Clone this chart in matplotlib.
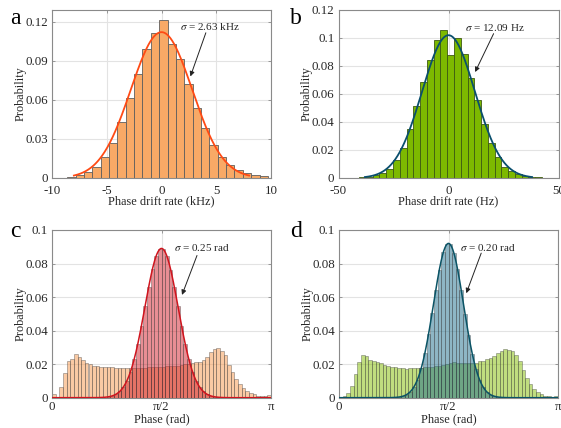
import numpy as np
import matplotlib
matplotlib.use("Agg")
import matplotlib.pyplot as plt

plt.rcParams['font.family'] = ['Liberation Serif', 'DejaVu Serif']
plt.rcParams['mathtext.fontset'] = 'stix'
plt.rcParams['axes.unicode_minus'] = False

# ---------------- data ----------------
# panel a: phase drift rate histogram (kHz)
a_edge0 = -9.38
a_binw = 0.764
a_prob = [0.0003, 0.0008, 0.0023, 0.0046, 0.0085, 0.0164, 0.0272, 0.0430, 0.0612,
          0.0797, 0.0989, 0.1110, 0.1215, 0.1030, 0.0915, 0.0725, 0.0540, 0.0387,
          0.0254, 0.0162, 0.0100, 0.0064, 0.0035, 0.0020, 0.0012]
a_fit = dict(amp=0.112, mu=0.0, width=2.8, lo=-8.0, hi=8.0)
a_sigma_label = r"$\sigma$ = 2.63 kHz"

# panel b: phase drift rate histogram (Hz)
b_edge0 = -46.8
b_binw = 3.08
b_prob = [0.0001, 0.0002, 0.0005, 0.0010, 0.0019, 0.0038, 0.0067, 0.0126, 0.0217,
          0.0348, 0.0512, 0.0688, 0.0845, 0.0983, 0.1055,
          0.0881, 0.1002, 0.0888, 0.0717, 0.0560, 0.0388, 0.0252, 0.0150, 0.0081,
          0.0048, 0.0026, 0.0014, 0.0007, 0.0004, 0.0002]
b_fit = dict(amp=0.102, mu=0.0, width=12.0, lo=-38.0, hi=38.0)
b_sigma_label = r"$\sigma$ = 12.09 Hz"

# panels c, d: phase histograms, 60 bins over [0, pi]
n_phase_bins = 60
c_broad = [0.0020, 0.0004, 0.0062, 0.0148, 0.0220, 0.0232, 0.0260, 0.0240, 0.0224, 0.0208,
           0.0200, 0.0192, 0.0188, 0.0186, 0.0184, 0.0182, 0.0182, 0.0180, 0.0180, 0.0178,
           0.0176, 0.0176, 0.0177, 0.0178, 0.0179, 0.0180, 0.0181, 0.0182, 0.0183, 0.0184,
           0.0185, 0.0187, 0.0189, 0.0190, 0.0192, 0.0195, 0.0198, 0.0200, 0.0205, 0.0210,
           0.0215, 0.0225, 0.0245, 0.0270, 0.0292, 0.0298, 0.0280, 0.0256, 0.0196, 0.0156,
           0.0112, 0.0080, 0.0056, 0.0040, 0.0026, 0.0020, 0.0012, 0.0009, 0.0012, 0.0016]
c_narrow = [0.0, 0.0, 0.0, 0.0, 0.0, 0.0, 0.0, 0.0, 0.0, 0.0,
            0.0, 0.0, 0.0, 0.0, 0.0, 0.0006, 0.0011, 0.0020, 0.0037, 0.0062,
            0.0101, 0.0156, 0.0229, 0.0321, 0.0429, 0.0546, 0.0663, 0.0766, 0.0844, 0.0886,
            0.0888, 0.0846, 0.0762, 0.0660, 0.0544, 0.0428, 0.0320, 0.0230, 0.0156, 0.0100,
            0.0062, 0.0037, 0.0020, 0.0011, 0.0006, 0.0003, 0.0, 0.0, 0.0, 0.0,
            0.0, 0.0, 0.0, 0.0, 0.0, 0.0, 0.0, 0.0, 0.0, 0.0]
c_fit = dict(amp=0.089, mu=np.pi / 2, width=0.238, lo=0.0, hi=np.pi)
c_sigma_label = r"$\sigma$ = 0.25 rad"

d_broad = [0.0006, 0.0012, 0.0026, 0.0068, 0.0140, 0.0212, 0.0256, 0.0246, 0.0226, 0.0216,
           0.0210, 0.0204, 0.0196, 0.0190, 0.0186, 0.0182, 0.0180, 0.0178, 0.0174, 0.0176,
           0.0176, 0.0178, 0.0180, 0.0182, 0.0184, 0.0186, 0.0188, 0.0190, 0.0194, 0.0200,
           0.0208, 0.0210, 0.0208, 0.0206, 0.0207, 0.0206, 0.0206, 0.0208, 0.0216, 0.0220,
           0.0228, 0.0236, 0.0246, 0.0266, 0.0280, 0.0292, 0.0286, 0.0276, 0.0256, 0.0216,
           0.0164, 0.0116, 0.0080, 0.0052, 0.0032, 0.0020, 0.0012, 0.0008, 0.0006, 0.0012]
d_narrow = [0.0, 0.0, 0.0, 0.0, 0.0, 0.0, 0.0, 0.0, 0.0, 0.0,
            0.0, 0.0, 0.0, 0.0, 0.0, 0.0, 0.0004, 0.0009, 0.0018, 0.0036,
            0.0062, 0.0108, 0.0176, 0.0265, 0.0378, 0.0508, 0.0640, 0.0762, 0.0866, 0.0918,
            0.0914, 0.0860, 0.0770, 0.0645, 0.0500, 0.0372, 0.0258, 0.0170, 0.0104, 0.0061,
            0.0034, 0.0017, 0.0008, 0.0004, 0.0, 0.0, 0.0, 0.0, 0.0, 0.0,
            0.0, 0.0, 0.0, 0.0, 0.0, 0.0, 0.0, 0.0, 0.0, 0.0]
d_fit = dict(amp=0.092, mu=np.pi / 2, width=0.215, lo=0.0, hi=np.pi)
d_sigma_label = r"$\sigma$ = 0.20 rad"

# ---------------- figure ----------------
W, H = 561, 428
fig = plt.figure(figsize=(W / 100, H / 100), dpi=100)

def px_axes(x0, y0, x1, y1):
    return fig.add_axes([x0 / W, 1 - y1 / H, (x1 - x0) / W, (y1 - y0) / H])

ax_a = px_axes(52, 10, 271, 178)
ax_b = px_axes(338.5, 10, 558.5, 178)
ax_c = px_axes(52, 230, 271, 397.7)
ax_d = px_axes(339, 230, 558, 397.7)

SP = '#8a8a8a'
TXT = '#262626'

def style(ax, xpad=5):
    for s in ax.spines.values():
        s.set_color(SP)
        s.set_linewidth(0.8)
    ax.tick_params(direction='in', length=2.5, width=0.6, color=SP,
                   labelsize=9.3, labelcolor=TXT, top=True, right=True)
    ax.tick_params(axis='x', pad=xpad)
    ax.tick_params(axis='y', pad=3)
    ax.grid(True, color='#e3e3e3', linewidth=0.8)
    ax.set_axisbelow(True)
    ax.set_ylabel('Probability', fontsize=8.8, color=TXT, labelpad=-1)

def gauss(ax, fit, color, lw=1.3):
    x = np.linspace(fit['lo'], fit['hi'], 400)
    y = fit['amp'] * np.exp(-(x - fit['mu']) ** 2 / (2 * fit['width'] ** 2))
    ax.plot(x, y, color=color, lw=lw, zorder=5)

def note(ax, label, txy, start, tip):
    ax.text(txy[0], txy[1], label, fontsize=8, color=TXT, va='center', ha='left', zorder=6)
    ax.annotate('', xy=tip, xytext=start,
                arrowprops=dict(arrowstyle='-|>', color='#222222', lw=0.7,
                                mutation_scale=7, shrinkA=0, shrinkB=0), zorder=6)

fmt = matplotlib.ticker.FormatStrFormatter('%g')

# ----- panel a -----
style(ax_a)
a_left = a_edge0 + a_binw * np.arange(len(a_prob))
ax_a.bar(a_left, a_prob, width=a_binw, align='edge', color='#F8A966',
         edgecolor='#5e5e5e', linewidth=0.6, zorder=2)
gauss(ax_a, a_fit, '#FF4A14')
ax_a.set_xlim(-10, 10)
ax_a.set_ylim(0, 0.129)
ax_a.set_xticks([-10, -5, 0, 5, 10])
ax_a.set_yticks([0, 0.03, 0.06, 0.09, 0.12])
ax_a.yaxis.set_major_formatter(fmt)
ax_a.set_xlabel('Phase drift rate (kHz)', fontsize=8.8, color=TXT, labelpad=-1)
note(ax_a, a_sigma_label, (1.72, 0.1165), (4.05, 0.1115), (2.64, 0.078))

# ----- panel b -----
style(ax_b)
b_left = b_edge0 + b_binw * np.arange(len(b_prob))
ax_b.bar(b_left, b_prob, width=b_binw, align='edge', color='#7DB900',
         edgecolor='#3d5a12', linewidth=0.6, zorder=2)
gauss(ax_b, b_fit, '#0A4F6E')
ax_b.set_xlim(-50, 50)
ax_b.set_ylim(0, 0.12)
ax_b.set_xticks([-50, 0, 50])
ax_b.set_yticks([0, 0.02, 0.04, 0.06, 0.08, 0.1, 0.12])
ax_b.yaxis.set_major_formatter(fmt)
ax_b.set_xlabel('Phase drift rate (Hz)', fontsize=8.8, color=TXT, labelpad=-1)
note(ax_b, b_sigma_label, (7.6, 0.1075), (20.5, 0.1031), (12.1, 0.0757))

# ----- panels c, d -----
ph_w = np.pi / n_phase_bins
ph_left = ph_w * np.arange(n_phase_bins)

def phase_panel(ax, broad, narrow, c_broad_col, c_narrow_col, fit, curve_col, label,
                txy, start, tip):
    style(ax, xpad=2.5)
    ax.bar(ph_left, broad, width=ph_w, align='edge', color=c_broad_col, alpha=0.5,
           edgecolor='#3a3a3a', linewidth=0.5, zorder=2)
    ax.bar(ph_left, narrow, width=ph_w, align='edge', color=c_narrow_col, alpha=0.5,
           edgecolor='#3a3a3a', linewidth=0.5, zorder=3)
    gauss(ax, fit, curve_col, lw=1.1)
    ax.set_xlim(0, np.pi)
    ax.set_ylim(0, 0.1)
    ax.set_xticks([0, np.pi / 2, np.pi])
    ax.set_xticklabels(['0', 'π/2', 'π'])
    ax.set_yticks([0, 0.02, 0.04, 0.06, 0.08, 0.1])
    ax.yaxis.set_major_formatter(fmt)
    ax.set_xlabel('Phase (rad)', fontsize=8.8, color=TXT, labelpad=0)
    note(ax, label, txy, start, tip)

phase_panel(ax_c, c_broad, c_narrow, '#F7964A', '#D21E2A', c_fit, '#D0141E',
            c_sigma_label, (1.745, 0.0895), (2.08, 0.0848), (1.865, 0.0613))
phase_panel(ax_d, d_broad, d_narrow, '#82BC00', '#1E6E8C', d_fit, '#0A5466',
            d_sigma_label, (1.74, 0.0895), (2.04, 0.0862), (1.826, 0.0623))

# panel letters
for lab, x, y in [('a', 15, 18), ('b', 296, 18), ('c', 15, 232), ('d', 296, 232)]:
    fig.text(x / W, 1 - y / H, lab, fontsize=17, color='black', ha='center', va='center')

fig.savefig('out.png', dpi=100)
